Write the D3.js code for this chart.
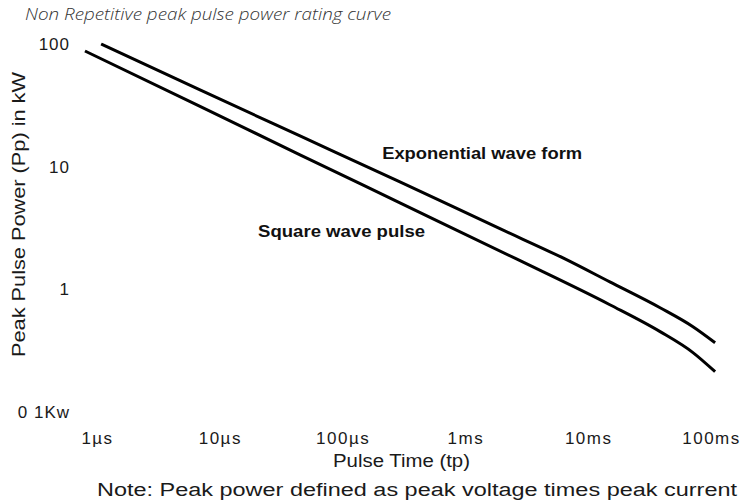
<!DOCTYPE html>
<html>
<head>
<meta charset="utf-8">
<script src="https://cdn.jsdelivr.net/npm/d3@7"></script>
<style>
  html, body { margin: 0; padding: 0; background: #fff; }
  svg { display: block; }
</style>
</head>
<body>
<div id="chart"></div>
<script>
// ---- data ----
const titleText = "Non Repetitive peak pulse power rating curve";
const yTitle = "Peak Pulse Power (Pp) in kW";
const xTitle = "Pulse Time (tp)";
const noteText = "Note: Peak power defined as peak voltage times peak current";

const timeTicks = [1e-6, 1e-5, 1e-4, 1e-3, 1e-2, 1e-1];
const timeTickLabels = ["1\u00b5s", "10\u00b5s", "100\u00b5s", "1ms", "10ms", "100ms"];
const powerTicks = [100, 10, 1, 0.1];
const powerTickLabels = ["100", "10", "1", "0 1Kw"];

// Exponential wave form: pulse time (s) vs peak pulse power (kW)
const expTime  = [1.08e-6, 6.90e-6, 4.50e-5, 2.93e-4, 1.91e-3, 6.47e-3, 1.50e-2, 3.85e-2, 7.13e-2, 1.08e-1];
const expPower = [100, 42.2, 17.8, 7.52, 3.12, 1.77, 1.15, 0.708, 0.496, 0.367];

// Square wave pulse
const sqTime  = [7.98e-7, 6.90e-6, 4.50e-5, 2.93e-4, 2.63e-3, 1.50e-2, 3.85e-2, 7.13e-2, 1.08e-1];
const sqPower = [87.7, 31.0, 12.5, 5.07, 1.76, 0.749, 0.452, 0.305, 0.213];

// curve labels, anchored in data units
const curveLabelText = ["Exponential wave form", "Square wave pulse"];
const curveLabelTime = [2.1e-4, 2.05e-5];
const curveLabelPower = [11.6, 2.68];

// ---- drawing ----
const W = 747, H = 504;
const FONT = "'Liberation Sans', Arial, Helvetica, sans-serif";

const svg = d3.select("#chart").append("svg")
  .attr("width", W).attr("height", H)
  .attr("viewBox", `0 0 ${W} ${H}`);

const x = d3.scaleLog().domain([1e-6, 1e-1]).range([97, 711]);
const y = d3.scaleLog().domain([0.1, 100]).range([412, 44]);

// title
svg.append("text")
  .attr("x", 25).attr("y", 20)
  .attr("font-family", "'Open Sans', 'Liberation Sans', Arial, sans-serif")
  .attr("font-style", "italic")
  .attr("font-weight", 300)
  .attr("font-size", 15.5)
  .attr("fill", "#333")
  .attr("textLength", 366)
  .attr("lengthAdjust", "spacingAndGlyphs")
  .text(titleText);

// y axis (labels only)
const yAxis = svg.append("g")
  .attr("transform", "translate(70,0)")
  .call(d3.axisLeft(y).tickValues(powerTicks)
    .tickFormat((d, i) => powerTickLabels[i]).tickSize(0).tickPadding(0));
yAxis.select(".domain").remove();
yAxis.attr("font-family", FONT).attr("font-size", 17);
yAxis.selectAll("text").attr("x", 0).attr("fill", "#1a1a1a").attr("letter-spacing", "1px");

// x axis (labels only)
const xAxis = svg.append("g")
  .attr("transform", "translate(0,444)")
  .call(d3.axisBottom(x).tickValues(timeTicks)
    .tickFormat((d, i) => timeTickLabels[i]).tickSize(0).tickPadding(0));
xAxis.select(".domain").remove();
xAxis.attr("font-family", FONT).attr("font-size", 17);
xAxis.selectAll("text").attr("y", 0).attr("dy", 0).attr("fill", "#1a1a1a").attr("letter-spacing", "1.5px");

// axis titles
svg.append("text")
  .attr("transform", "translate(25,214.5) rotate(-90)")
  .attr("text-anchor", "middle")
  .attr("font-family", FONT).attr("font-size", 18)
  .attr("fill", "#1a1a1a")
  .attr("textLength", 285).attr("lengthAdjust", "spacingAndGlyphs")
  .text(yTitle);

svg.append("text")
  .attr("x", 401.5).attr("y", 467)
  .attr("text-anchor", "middle")
  .attr("font-family", FONT).attr("font-size", 18)
  .attr("fill", "#1a1a1a")
  .attr("textLength", 137).attr("lengthAdjust", "spacingAndGlyphs")
  .text(xTitle);

svg.append("text")
  .attr("x", 417).attr("y", 496)
  .attr("text-anchor", "middle")
  .attr("font-family", FONT).attr("font-size", 18)
  .attr("fill", "#1a1a1a")
  .attr("textLength", 640).attr("lengthAdjust", "spacingAndGlyphs")
  .text(noteText);

// curves
const line = d3.line()
  .x(d => x(d[0])).y(d => y(d[1]))
  .curve(d3.curveMonotoneX);

const series = [
  d3.zip(expTime, expPower),
  d3.zip(sqTime, sqPower)
];

svg.selectAll("path.curve").data(series).join("path")
  .attr("class", "curve")
  .attr("d", line)
  .attr("fill", "none")
  .attr("stroke", "#000")
  .attr("stroke-width", 3)
  .attr("stroke-linejoin", "round");

// curve labels
const labelWidths = [200, 167];
svg.selectAll("text.curve-label").data(curveLabelText).join("text")
  .attr("class", "curve-label")
  .attr("x", (d, i) => x(curveLabelTime[i]))
  .attr("y", (d, i) => y(curveLabelPower[i]))
  .attr("font-family", FONT).attr("font-weight", "bold").attr("font-size", 16.5)
  .attr("fill", "#111")
  .attr("textLength", (d, i) => labelWidths[i]).attr("lengthAdjust", "spacingAndGlyphs")
  .text(d => d);
</script>
</body>
</html>
